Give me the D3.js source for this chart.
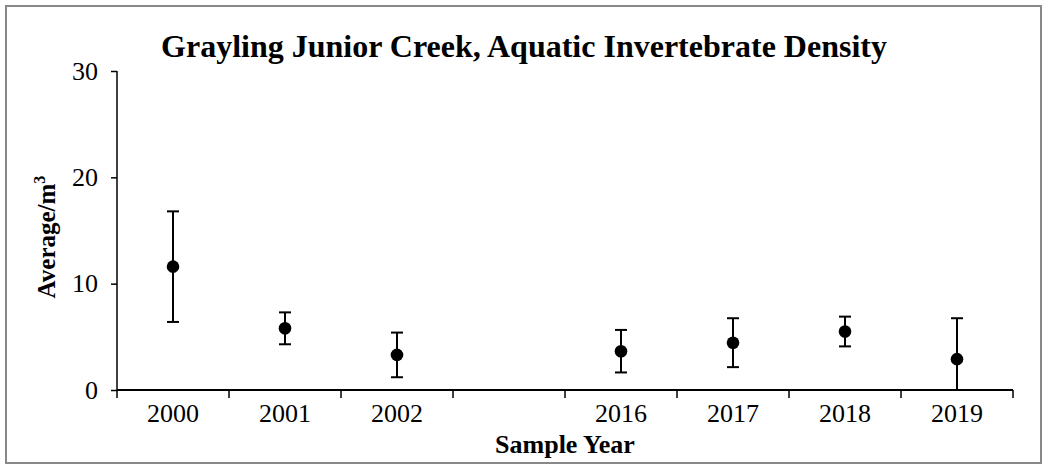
<!DOCTYPE html>
<html><head><meta charset="utf-8">
<script src="https://cdn.jsdelivr.net/npm/d3@7"></script>
<style>html,body{margin:0;padding:0;background:#fff;}svg{display:block;}</style>
</head><body>
<script>
const categories = ["2000","2001","2002"," ","2016","2017","2018","2019"];
const years = ["2000","2001","2002","2016","2017","2018","2019"];
const means = [11.6, 5.8, 3.3, 3.65, 4.45, 5.5, 2.9];
const errors = [5.2, 1.5, 2.1, 2.0, 2.3, 1.4, 3.85];
const yTicks = [0, 10, 20, 30];

const W = 1046, H = 468;
const svg = d3.select("body").append("svg").attr("width", W).attr("height", H);
svg.append("rect").attr("x", 6).attr("y", 6).attr("width", 1035).attr("height", 457)
  .attr("fill", "#fff").attr("stroke", "#888").attr("stroke-width", 2);

const x = d3.scaleBand().domain(categories).range([117, 1013]).paddingInner(0).paddingOuter(0);
const y = d3.scaleLinear().domain([0, 30]).range([390, 71]);
const font = "'Liberation Serif', 'Times New Roman', serif";

// y axis
const ya = svg.append("g").attr("transform", "translate(117,0)")
  .call(d3.axisLeft(y).tickValues(yTicks).tickSize(6).tickPadding(13));
ya.select(".domain").attr("stroke", "#000").attr("stroke-width", 1.5).attr("d", "M0," + y(30) + "V" + y(0));
ya.selectAll(".tick line").attr("stroke", "#000").attr("stroke-width", 1.5);
ya.selectAll(".tick text").attr("font-family", font).attr("font-size", 26).attr("fill", "#000");

// x axis
const xa = svg.append("g").attr("transform", "translate(0," + y(0) + ")")
  .call(d3.axisBottom(x).tickSize(0).tickPadding(14));
xa.select(".domain").attr("stroke", "#000").attr("stroke-width", 2).attr("d", "M117,0H1013");
xa.selectAll(".tick text").attr("font-family", font).attr("font-size", 26).attr("fill", "#000");
const bounds = categories.map(c => x(c)).concat([x(categories[categories.length-1]) + x.bandwidth()]);
xa.selectAll(".bt").data(bounds).enter().append("line")
  .attr("x1", d => d).attr("x2", d => d).attr("y1", 0).attr("y2", 8)
  .attr("stroke", "#000").attr("stroke-width", 1.5);

// error bars & points
const g = svg.append("g");
const cx = d => x(d) + x.bandwidth() / 2;
const clampY = v => y(Math.max(0, Math.min(30, v)));
years.forEach((yr, i) => {
  const hi = means[i] + errors[i], lo = means[i] - errors[i];
  g.append("line").attr("x1", cx(yr)).attr("x2", cx(yr)).attr("y1", clampY(hi)).attr("y2", clampY(lo))
    .attr("stroke", "#000").attr("stroke-width", 2);
  [hi, lo].forEach(v => {
    if (v >= 0 && v <= 30) {
      g.append("line").attr("x1", cx(yr) - 6).attr("x2", cx(yr) + 6).attr("y1", y(v)).attr("y2", y(v))
        .attr("stroke", "#000").attr("stroke-width", 2);
    }
  });
  g.append("circle").attr("cx", cx(yr)).attr("cy", y(means[i])).attr("r", 6.3).attr("fill", "#000");
});

// titles
svg.append("text").attr("x", 524).attr("y", 57).attr("text-anchor", "middle")
  .attr("font-family", font).attr("font-weight", "bold").attr("font-size", 32)
  .text("Grayling Junior Creek, Aquatic Invertebrate Density");
svg.append("text").attr("x", 565).attr("y", 453).attr("text-anchor", "middle")
  .attr("font-family", font).attr("font-weight", "bold").attr("font-size", 26)
  .text("Sample Year");
const yl = svg.append("text").attr("transform", "translate(55,237) rotate(-90)").attr("text-anchor", "middle")
  .attr("font-family", font).attr("font-weight", "bold").attr("font-size", 25);
yl.append("tspan").text("Average/m");
yl.append("tspan").attr("font-size", 16).attr("dy", -10).text("3");
</script>
</body></html>
